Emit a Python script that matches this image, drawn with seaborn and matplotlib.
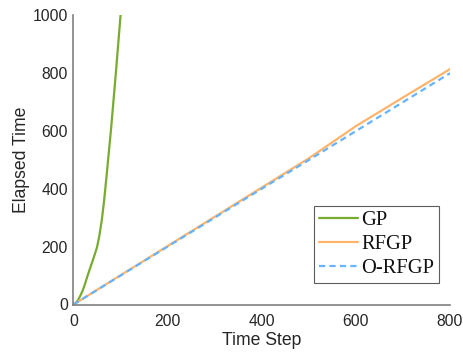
import numpy as np
import pandas as pd
import matplotlib
matplotlib.use("Agg")
import matplotlib.pyplot as plt
import seaborn as sns

# Data
gp_x = [0, 5, 10, 15, 20, 25, 30, 35, 40, 45, 50, 55, 60, 65, 70, 75, 80, 85, 90, 95, 100]
gp_y = [0, 6, 16, 32, 50, 74, 100, 124, 148, 172, 198, 238, 290, 358, 440, 525, 610, 705, 800, 900, 1000]

rfgp_x = [0, 100, 200, 300, 400, 500, 510, 600, 700, 800]
rfgp_y = [0, 101, 202, 303, 404, 505, 516, 616, 715, 813]

orfgp_x = [0, 100, 200, 300, 400, 500, 600, 700, 800]
orfgp_y = [0, 100, 200, 300, 400, 499, 599, 699, 799]

series_names = ["GP", "RFGP", "O-RFGP"]
colors = ["#77AC30", "#FFB36B", "#66B3FF"]

df = pd.concat([
    pd.DataFrame({"Time Step": gp_x, "Elapsed Time": gp_y, "method": "GP"}),
    pd.DataFrame({"Time Step": rfgp_x, "Elapsed Time": rfgp_y, "method": "RFGP"}),
    pd.DataFrame({"Time Step": orfgp_x, "Elapsed Time": orfgp_y, "method": "O-RFGP"}),
], ignore_index=True)

sns.set_theme(style="white")
plt.rcParams["font.family"] = ["Liberation Sans", "DejaVu Sans"]

fig = plt.figure(figsize=(4.64, 3.52), dpi=100)
ax = fig.add_axes([73.5 / 464, (352 - 304.5) / 352, (450 - 73.5) / 464, (304.5 - 15) / 352])

sns.lineplot(data=df, x="Time Step", y="Elapsed Time", hue="method",
             style="method", hue_order=series_names, style_order=series_names,
             palette=colors, dashes={"GP": "", "RFGP": "", "O-RFGP": (2.8, 1.9)},
             linewidth=1.6, ax=ax, sort=False, estimator=None)

ax.set_xlim(0, 800)
ax.set_ylim(0, 1000)
ax.set_xticks([0, 200, 400, 600, 800])
ax.set_yticks([0, 200, 400, 600, 800, 1000])

for side in ["top", "right"]:
    ax.spines[side].set_visible(False)
for side in ["left", "bottom"]:
    ax.spines[side].set_color("#808080")
    ax.spines[side].set_linewidth(1.2)

ax.tick_params(direction="in", length=4, width=1.0, color="#808080",
               labelsize=11.3, labelcolor="#262626")
ax.tick_params(axis="x", pad=7)
ax.tick_params(axis="y", pad=4)
ax.set_xlabel("Time Step", fontsize=12.7, color="#262626", labelpad=2)
ax.set_ylabel("Elapsed Time", fontsize=12.7, color="#262626", labelpad=2)

leg = ax.legend(loc="lower right", bbox_to_anchor=(0.972, 0.073),
                prop={"family": "Liberation Serif", "size": 14.8},
                frameon=True, fancybox=False, handlelength=1.9,
                handletextpad=0.15, borderpad=0.25, labelspacing=0.22,
                borderaxespad=0)
leg.get_frame().set_edgecolor("#333333")
leg.get_frame().set_linewidth(0.8)
for t in leg.get_texts():
    t.set_color("#111111")

fig.savefig("out.png", dpi=100)
